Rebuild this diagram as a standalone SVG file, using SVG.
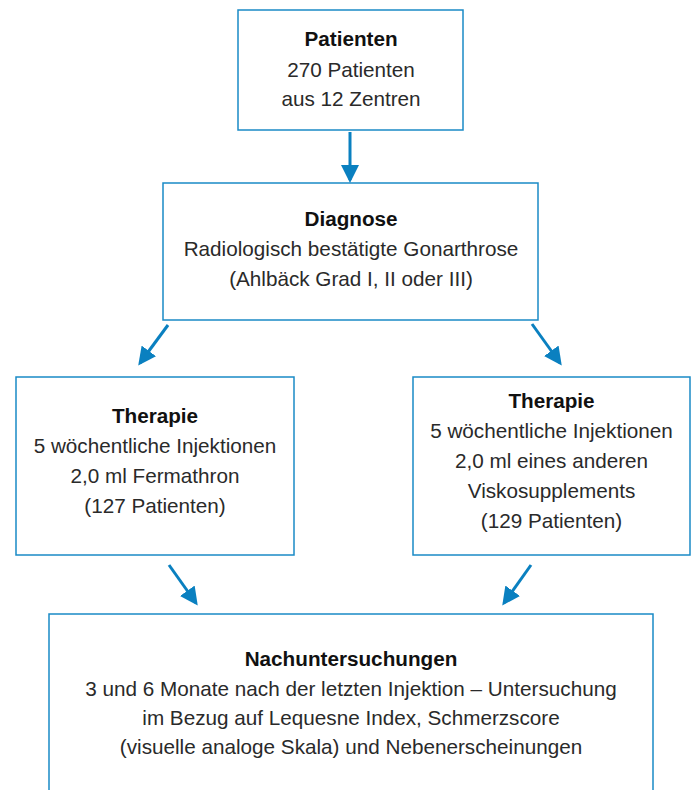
<svg xmlns="http://www.w3.org/2000/svg" width="696" height="790" viewBox="0 0 696 790">
<defs>
<style>
.box{fill:#fff;stroke:#1a8ac6;stroke-width:1.5}
.t{font-family:"Liberation Sans",Arial,sans-serif;font-size:20.7px;fill:#2a2a2a;text-anchor:middle}
.b{font-weight:bold;fill:#111}
.c{stroke:#0a80c0;stroke-width:3;fill:none}
</style>
<marker id="ah" markerWidth="6" markerHeight="6" refX="5" refY="3" orient="auto" markerUnits="strokeWidth">
<path d="M0,0 L6,3 L0,6 z" fill="#0a80c0"/>
</marker>
</defs>
<rect width="696" height="790" fill="#fff"/>
<g id="connectors">
<line class="c" x1="350" y1="132" x2="350" y2="180" marker-end="url(#ah)"/>
<line class="c" x1="168" y1="325" x2="140" y2="363" marker-end="url(#ah)"/>
<line class="c" x1="532" y1="324" x2="560" y2="363" marker-end="url(#ah)"/>
<line class="c" x1="169" y1="565" x2="196" y2="603" marker-end="url(#ah)"/>
<line class="c" x1="531" y1="565" x2="504" y2="603" marker-end="url(#ah)"/>
</g>
<g id="patienten">
<rect class="box" x="238" y="10" width="225" height="120"/>
<text class="t b" x="351" y="46">Patienten</text>
<text class="t" x="351" y="77">270 Patienten</text>
<text class="t" x="351" y="106">aus 12 Zentren</text>
</g>
<g id="diagnose">
<rect class="box" x="163" y="183" width="375" height="137"/>
<text class="t b" x="351" y="226">Diagnose</text>
<text class="t" x="351" y="256">Radiologisch bestätigte Gonarthrose</text>
<text class="t" x="351" y="286">(Ahlbäck Grad I, II oder III)</text>
</g>
<g id="therapie-links">
<rect class="box" x="16" y="377" width="278" height="178"/>
<text class="t b" x="155" y="423">Therapie</text>
<text class="t" x="155" y="453">5 wöchentliche Injektionen</text>
<text class="t" x="155" y="483">2,0 ml Fermathron</text>
<text class="t" x="155" y="513">(127 Patienten)</text>
</g>
<g id="therapie-rechts">
<rect class="box" x="413" y="377" width="277" height="178"/>
<text class="t b" x="551.5" y="408">Therapie</text>
<text class="t" x="551.5" y="438">5 wöchentliche Injektionen</text>
<text class="t" x="551.5" y="468">2,0 ml eines anderen</text>
<text class="t" x="551.5" y="498">Viskosupplements</text>
<text class="t" x="551.5" y="528">(129 Patienten)</text>
</g>
<g id="nachuntersuchungen">
<path class="box" d="M49,792 V614 H653 V792"/>
<text class="t b" x="351" y="666">Nachuntersuchungen</text>
<text class="t" x="351" y="696">3 und 6 Monate nach der letzten Injektion – Untersuchung</text>
<text class="t" x="351" y="725">im Bezug auf Lequesne Index, Schmerzscore</text>
<text class="t" x="351" y="754">(visuelle analoge Skala) und Nebenerscheinungen</text>
</g>
</svg>
